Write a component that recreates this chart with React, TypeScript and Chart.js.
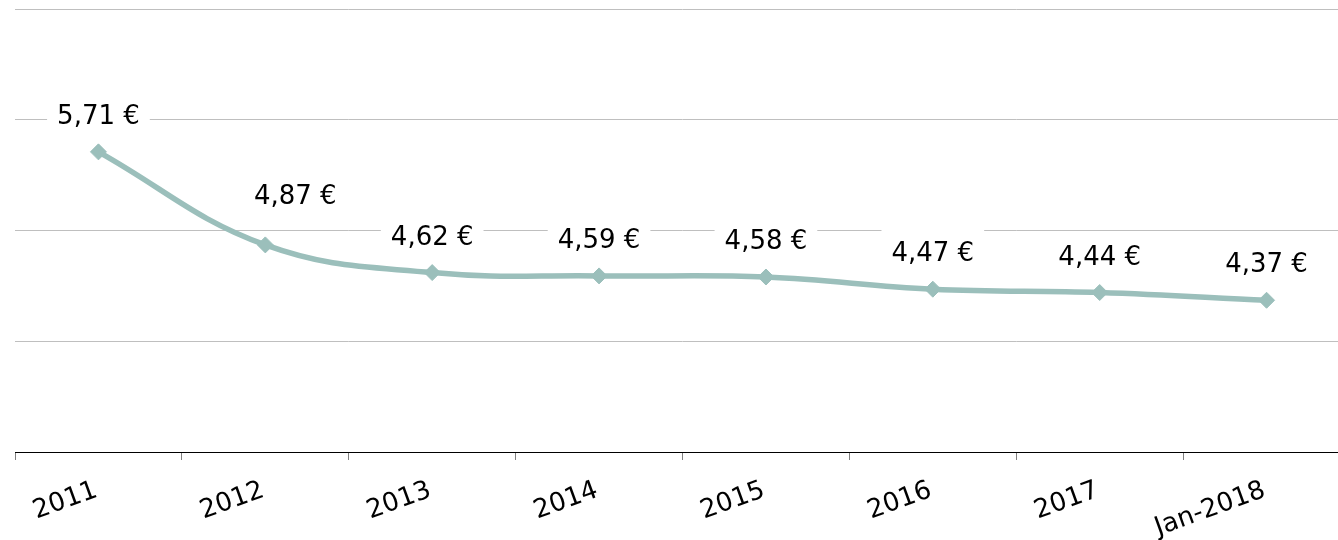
import React, { useEffect, useRef } from "react";
import { Chart, registerables } from "chart.js";

Chart.register(...registerables);

const categories = ["2011", "2012", "2013", "2014", "2015", "2016", "2017", "Jan-2018"];
const prices = [5.71, 4.87, 4.62, 4.59, 4.58, 4.47, 4.44, 4.37];
const priceLabels = prices.map((v) => v.toFixed(2).replace(".", ",") + " €");
const yMin = 3;
const yMax = 7;
const yStep = 1;

// manual nudges of individual value labels (pixels), as in the original
const labelNudgeX = [0, 30, 0, 0, 0, 0, 0, 0];
const labelNudgeY = [0, -13, 0, 0, 0, 0, 0, 0];

const LINE_COLOR = "#9bbfbb";
const FONT = '"DejaVu Sans", sans-serif';

const axisLinePlugin = {
  id: "axisLine",
  afterDraw(chart: any) {
    const ctx = chart.ctx as CanvasRenderingContext2D;
    const area = chart.chartArea;
    const y = Math.round(area.bottom) + 0.5;
    ctx.save();
    ctx.strokeStyle = "#000000";
    ctx.lineWidth = 1;
    ctx.beginPath();
    ctx.moveTo(area.left, y);
    ctx.lineTo(chart.width, y);
    ctx.stroke();
    ctx.restore();
  },
};

const valueLabelPlugin = {
  id: "valueLabels",
  afterDatasetsDraw(chart: any) {
    const ctx = chart.ctx as CanvasRenderingContext2D;
    const meta = chart.getDatasetMeta(0);
    ctx.save();
    ctx.font = `26px ${FONT}`;
    ctx.textAlign = "center";
    ctx.textBaseline = "alphabetic";
    meta.data.forEach((pt: any, i: number) => {
      const text = priceLabels[i];
      const w = ctx.measureText(text).width;
      const cx = pt.x + labelNudgeX[i];
      const base = pt.y - 28 + labelNudgeY[i];
      ctx.fillStyle = "#ffffff";
      ctx.fillRect(cx - w / 2 - 10, base - 32, w + 20, 40);
      ctx.fillStyle = "#000000";
      ctx.fillText(text, cx, base);
    });
    ctx.restore();
  },
};

export default function App() {
  const canvasRef = useRef<HTMLCanvasElement | null>(null);

  useEffect(() => {
    if (!canvasRef.current) return;
    const chart = new Chart(canvasRef.current, {
      type: "line",
      data: {
        labels: categories,
        datasets: [
          {
            data: prices,
            borderColor: LINE_COLOR,
            backgroundColor: LINE_COLOR,
            borderWidth: 5.5,
            tension: 0.4,
            pointStyle: "rectRot",
            pointRadius: 8,
            pointBorderWidth: 1,
            pointBackgroundColor: LINE_COLOR,
            pointBorderColor: LINE_COLOR,
            fill: false,
          },
        ],
      },
      options: {
        responsive: false,
        animation: false,
        layout: { padding: { left: 15, top: 7, right: 0, bottom: 0 } },
        plugins: {
          legend: { display: false },
          tooltip: { enabled: false },
        },
        scales: {
          x: {
            offset: true,
            grid: {
              display: true,
              drawOnChartArea: false,
              drawTicks: true,
              tickLength: 8,
              offset: true,
              color: "#808080",
            },
            border: { display: false },
            ticks: {
              autoSkip: false,
              minRotation: 20,
              maxRotation: 20,
              padding: 15,
              labelOffset: -2,
              color: "#000000",
              font: { family: FONT, size: 26 },
            },
            afterFit: (s: any) => {
              s.height = 88;
            },
          },
          y: {
            min: yMin,
            max: yMax,
            ticks: { stepSize: yStep, display: false },
            grid: { color: "#bfbfbf", drawTicks: false, lineWidth: 1 },
            border: { display: false },
            afterFit: (s: any) => {
              s.width = 0;
            },
          },
        },
      },
      plugins: [valueLabelPlugin, axisLinePlugin],
    });
    return () => chart.destroy();
  }, []);

  return (
    <div
      style={{
        position: "fixed",
        left: 0,
        top: 0,
        width: 1338,
        height: 540,
        overflow: "hidden",
        background: "#ffffff",
      }}
    >
      <canvas ref={canvasRef} width={1359} height={540} style={{ display: "block" }} />
    </div>
  );
}
